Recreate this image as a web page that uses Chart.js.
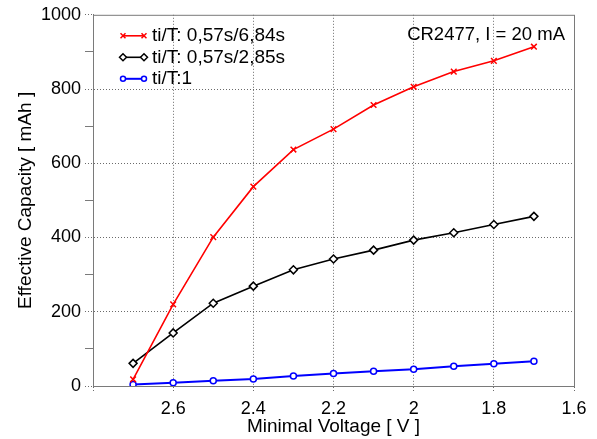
<!DOCTYPE html>
<html>
<head>
<meta charset="utf-8">
<script src="https://cdn.jsdelivr.net/npm/chart.js@4/dist/chart.umd.min.js"></script>
<style>
  html, body { margin: 0; padding: 0; background: #fff; }
  #wrap { width: 597px; height: 439px; }
</style>
</head>
<body>
<div id="wrap"><canvas id="chart"></canvas></div>
<script>
const voltages = [2.7, 2.6, 2.5, 2.4, 2.3, 2.2, 2.1, 2.0, 1.9, 1.8, 1.7];
const capLong = [18, 220, 401, 537, 637, 692, 757, 806, 847, 876, 914];
const capMid = [61, 143, 223, 269, 313, 342, 366, 393, 413, 435, 457];
const capFull = [4, 9, 14, 19, 27, 34, 40, 45, 53, 60, 67];
const seriesLabels = ['ti/T: 0,57s/6,84s', 'ti/T: 0,57s/2,85s', 'ti/T:1'];
const noteText = 'CR2477, I = 20 mA';

const FONT = 'Liberation Sans, Arial, Helvetica, sans-serif';
const AXIS_GRAY = '#7a7a7a';
const GRID_GRAY = 'rgba(70,70,70,0.8)';

const toPoints = vals => voltages.map((v, i) => ({ x: v, y: vals[i] }));

const series = [
    { label: seriesLabels[0], data: toPoints(capLong), color: '#ff0000', pointStyle: 'crossRot', radius: 4, lineWidth: 1.6, bg: '#ff0000' },
    { label: seriesLabels[1], data: toPoints(capMid), color: '#000000', pointStyle: 'rectRot', radius: 4, lineWidth: 1.6, bg: '#ffffff' },
    { label: seriesLabels[2], data: toPoints(capFull), color: '#0000ff', pointStyle: 'circle', radius: 3, lineWidth: 2, bg: '#ffffff' },
];

// box around plot, legend inside and the note text
const decorations = {
    id: 'decorations',
    afterDraw(chart) {
        const { ctx, chartArea: a } = chart;
        ctx.save();
        ctx.strokeStyle = AXIS_GRAY;
        ctx.lineWidth = 1;
        ctx.setLineDash([]);
        ctx.strokeRect(a.left + 0.5, a.top + 0.5, a.right - a.left, a.bottom - a.top);

        ctx.font = '18.5px ' + FONT;
        ctx.textBaseline = 'middle';
        ctx.fillStyle = '#000';
        ctx.textAlign = 'right';
        ctx.fillText(noteText, a.right - 9, a.top + 20);

        ctx.font = '19px ' + FONT;
        ctx.textAlign = 'left';
        series.forEach((s, i) => {
            const y = a.top + 21 + i * 21.5;
            const x0 = a.left + 30, x1 = a.left + 51;
            ctx.strokeStyle = s.color;
            ctx.lineWidth = s.lineWidth;
            ctx.beginPath();
            ctx.moveTo(x0, y);
            ctx.lineTo(x1, y);
            ctx.stroke();
            ctx.fillStyle = s.bg;
            ctx.lineWidth = 1.5;
            [x0, x1].forEach(x => Chart.helpers.drawPoint(ctx, {
                pointStyle: s.pointStyle, radius: s.radius - 0.5, rotation: 0, borderWidth: 1.5
            }, x, y));
            ctx.fillStyle = '#000';
            ctx.fillText(s.label, a.left + 59, y);
        });
        ctx.restore();
    }
};

new Chart(document.getElementById('chart'), {
    type: 'line',
    data: {
        datasets: series.map(s => ({
            label: s.label,
            data: s.data,
            borderColor: s.color,
            borderWidth: s.lineWidth,
            backgroundColor: s.bg,
            pointStyle: s.pointStyle,
            pointRadius: s.radius,
            pointBorderColor: s.color,
            pointBackgroundColor: s.bg,
            pointBorderWidth: 1.5,
            tension: 0,
            fill: false,
        }))
    },
    options: {
        responsive: true,
        maintainAspectRatio: false,
        animation: false,
        layout: { padding: { top: 13, right: 23, left: 0, bottom: 0 } },
        plugins: {
            legend: { display: false },
            tooltip: { enabled: false }
        },
        scales: {
            x: {
                type: 'linear',
                reverse: true,
                min: 1.6,
                max: 2.8,
                afterFit: scale => { scale.height = 53; },
                border: { display: true, color: AXIS_GRAY, width: 1, dash: [1, 2] },
                grid: {
                    color: ctx => (ctx.tick && (Math.abs(ctx.tick.value - 1.6) < 1e-6 || Math.abs(ctx.tick.value - 2.8) < 1e-6)) ? 'rgba(0,0,0,0)' : GRID_GRAY,
                    tickColor: GRID_GRAY,
                    tickBorderDash: [1, 2],
                    tickLength: 7,
                    lineWidth: 1
                },
                ticks: {
                    stepSize: 0.2,
                    autoSkip: false,
                    maxRotation: 0,
                    padding: 5,
                    color: '#000',
                    font: { family: FONT, size: 18 },
                    callback: v => (Math.abs(v - 2.8) < 1e-6 ? '' : String(Number(v.toFixed(1))))
                },
                title: {
                    display: true,
                    text: 'Minimal Voltage [ V ]',
                    color: '#000',
                    font: { family: FONT, size: 19 },
                    padding: { top: 0, bottom: 1 }
                }
            },
            y: {
                min: 0,
                max: 1000,
                afterFit: scale => { scale.width = 93; },
                border: { display: true, color: AXIS_GRAY, width: 1, dash: [1, 2] },
                grid: {
                    color: ctx => (ctx.tick && ctx.tick.value % 200 === 0 && ctx.tick.value > 0 && ctx.tick.value < 1000) ? GRID_GRAY : 'rgba(0,0,0,0)',
                    tickColor: ctx => (ctx.tick && ctx.tick.value % 200 === 0) ? GRID_GRAY : AXIS_GRAY,
                    tickBorderDash: ctx => (ctx.tick && ctx.tick.value % 200 === 0) ? [1, 2] : [],
                    tickLength: 8,
                    lineWidth: 1
                },
                ticks: {
                    stepSize: 100,
                    autoSkip: false,
                    padding: 4,
                    color: '#000',
                    font: { family: FONT, size: 18 },
                    callback: v => (v % 200 === 0 ? String(v) : '')
                },
                title: {
                    display: true,
                    text: 'Effective Capacity [ mAh ]',
                    color: '#000',
                    font: { family: FONT, size: 19 },
                    padding: { top: 14, bottom: 0 }
                }
            }
        }
    },
    plugins: [decorations]
});
</script>
</body>
</html>
